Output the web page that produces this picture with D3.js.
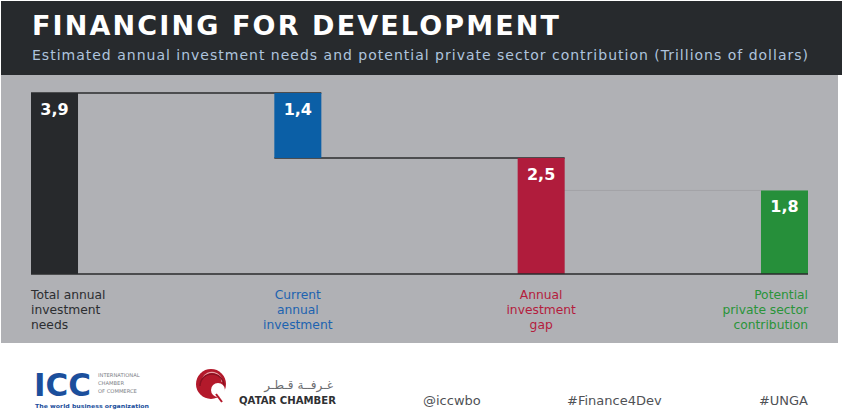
<!DOCTYPE html>
<html>
<head>
<meta charset="utf-8">
<script src="https://cdn.jsdelivr.net/npm/d3@7"></script>
<style>
  html, body { margin: 0; padding: 0; background: #ffffff; }
  svg { display: block; }
</style>
</head>
<body>
<div id="chart"></div>
<script>
// ---- data ----
const titleText = "FINANCING FOR DEVELOPMENT";
const subtitleText = "Estimated annual investment needs and potential private sector contribution (Trillions of dollars)";
const categories = ["Total annual investment needs", "Current annual investment", "Annual investment gap", "Potential private sector contribution"];
const categoryLines = [
  ["Total annual", "investment", "needs"],
  ["Current", "annual", "investment"],
  ["Annual", "investment", "gap"],
  ["Potential", "private sector", "contribution"]
];
const values = [3.9, 1.4, 2.5, 1.8];
// how each bar sits in the waterfall
const kinds = ["total", "decrease", "remainder", "total"];
const barColors = ["#27292c", "#0b5fa6", "#b01c3c", "#268f3a"];
const labelColors = ["#2c2e31", "#1d63b0", "#b41d3d", "#2a9439"];
const labelAnchors = ["start", "middle", "middle", "end"];
const footerTags = ["@iccwbo", "#Finance4Dev", "#UNGA"];

// ---- layout ----
const W = 842, H = 416;
const svg = d3.select("#chart").append("svg").attr("width", W).attr("height", H);

// panels
svg.append("rect").attr("x", 0).attr("y", 0).attr("width", W).attr("height", H).attr("fill", "#ffffff");
svg.append("rect").attr("x", 1).attr("y", 75).attr("width", 837).attr("height", 268).attr("fill", "#b0b1b5");
svg.append("rect").attr("x", 1).attr("y", 1).attr("width", 841).attr("height", 74).attr("fill", "#272a2d");

svg.append("text").text(titleText)
  .attr("x", 32).attr("y", 34.5)
  .attr("font-family", "DejaVu Sans").attr("font-weight", "bold").attr("font-size", 27)
  .attr("fill", "#ffffff")
  .attr("textLength", 527).attr("lengthAdjust", "spacing");

svg.append("text").text(subtitleText)
  .attr("x", 32).attr("y", 60)
  .attr("font-family", "DejaVu Sans").attr("font-size", 14)
  .attr("fill", "#aec4de")
  .attr("textLength", 776).attr("lengthAdjust", "spacing");

// scales
const x = d3.scaleBand().domain(categories).range([31, 808]).paddingInner(0.8068).paddingOuter(0);
const y = d3.scaleLinear().domain([0, 3.9]).range([274, 93]);

// compute waterfall extents
let running = 0;
const bars = values.map((v, i) => {
  let lo, hi;
  if (kinds[i] === "total") { lo = 0; hi = v; running = v; }
  else if (kinds[i] === "decrease") { hi = running; lo = running - v; running = lo; }
  else { lo = 0; hi = running; }
  return { cat: categories[i], v, lo, hi, i };
});

const fmt = d3.formatLocale({ decimal: ",", thousands: ".", grouping: [3], currency: ["", ""] }).format(".1f");

const g = svg.append("g");

// connectors
for (let i = 0; i < bars.length - 1; i++) {
  const a = bars[i], b = bars[i + 1];
  const level = kinds[i + 1] === "decrease" ? a.hi : (kinds[i + 1] === "remainder" ? a.lo : b.hi);
  const light = kinds[i + 1] === "total";
  g.append("line")
    .attr("x1", x(a.cat)).attr("x2", x(b.cat) + (light ? 0 : x.bandwidth()))
    .attr("y1", y(level)).attr("y2", y(level))
    .attr("stroke", light ? "#a2a3a7" : "#2b2c2e")
    .attr("stroke-width", light ? 1 : 1.4);
}

// bars
g.selectAll("rect.bar").data(bars).join("rect")
  .attr("class", "bar")
  .attr("x", d => x(d.cat)).attr("width", x.bandwidth())
  .attr("y", d => y(d.hi)).attr("height", d => y(d.lo) - y(d.hi))
  .attr("fill", (d, i) => barColors[i]);

// baseline
g.append("line")
  .attr("x1", x(categories[0])).attr("x2", x(categories[3]) + x.bandwidth())
  .attr("y1", y(0)).attr("y2", y(0))
  .attr("stroke", "#2a2b2d").attr("stroke-width", 1.5);

// value labels
g.selectAll("text.val").data(bars).join("text")
  .attr("class", "val")
  .attr("x", d => x(d.cat) + x.bandwidth() / 2)
  .attr("y", d => y(d.hi) + 22)
  .attr("text-anchor", "middle")
  .attr("font-family", "DejaVu Sans").attr("font-weight", "bold").attr("font-size", 16)
  .attr("fill", "#ffffff")
  .text(d => fmt(d.v));

// category labels
bars.forEach((d, i) => {
  const anchor = labelAnchors[i];
  const lx = anchor === "start" ? x(d.cat) : anchor === "end" ? x(d.cat) + x.bandwidth() : x(d.cat) + x.bandwidth() / 2;
  const t = g.append("text")
    .attr("text-anchor", anchor)
    .attr("font-family", "DejaVu Sans").attr("font-size", 12.3)
    .attr("fill", labelColors[i]);
  categoryLines[i].forEach((line, k) => {
    t.append("tspan").attr("x", lx).attr("y", 298.5 + k * 15.3).text(line);
  });
});

// ---- footer ----
const f = svg.append("g");
// ICC logo
f.append("text").text("ICC")
  .attr("x", 34).attr("y", 396)
  .attr("font-family", "DejaVu Sans").attr("font-weight", "bold").attr("font-size", 32)
  .attr("fill", "#1b4f9c")
  .attr("textLength", 57).attr("lengthAdjust", "spacingAndGlyphs");
["INTERNATIONAL", "CHAMBER", "OF COMMERCE"].forEach((s, k) => {
  f.append("text").text(s)
    .attr("x", 98).attr("y", 377 + k * 8)
    .attr("font-family", "DejaVu Sans").attr("font-size", 5.2)
    .attr("fill", "#7a7d85");
});
f.append("text").text("The world business organization")
  .attr("x", 35).attr("y", 408)
  .attr("font-family", "DejaVu Sans").attr("font-weight", "bold").attr("font-size", 5.4)
  .attr("fill", "#1b4f9c")
  .attr("textLength", 114).attr("lengthAdjust", "spacingAndGlyphs");

// Qatar Chamber logo
f.append("circle").attr("cx", 211).attr("cy", 384).attr("r", 15).attr("fill", "#b3192b");
f.append("path").attr("d", "M203,378 A10,10 0 0 1 222,382").attr("fill", "none").attr("stroke", "#e7a1a6").attr("stroke-width", 1.2);
f.append("path").attr("d", "M200,386 A12,12 0 0 1 224,386").attr("fill", "none").attr("stroke", "#8a1020").attr("stroke-width", 1.5);
f.append("circle").attr("cx", 218).attr("cy", 390).attr("r", 7).attr("fill", "#ffffff");
f.append("path").attr("d", "M216,394 L222,402").attr("stroke", "#b3192b").attr("stroke-width", 2);
f.append("text").text("غـرفــة قـطـر")
  .attr("x", 333).attr("y", 389).attr("text-anchor", "end")
  .attr("font-family", "DejaVu Sans").attr("font-size", 12)
  .attr("fill", "#6b6d70");
f.append("text").text("QATAR CHAMBER")
  .attr("x", 239).attr("y", 404)
  .attr("font-family", "DejaVu Sans").attr("font-weight", "bold").attr("font-size", 11)
  .attr("fill", "#2f3033")
  .attr("textLength", 97).attr("lengthAdjust", "spacingAndGlyphs");

// hashtags
const tagX = [423, 567, 808];
const tagAnchor = ["start", "start", "end"];
footerTags.forEach((s, k) => {
  f.append("text").text(s)
    .attr("x", tagX[k]).attr("y", 405)
    .attr("text-anchor", tagAnchor[k])
    .attr("font-family", "DejaVu Sans").attr("font-size", 13)
    .attr("fill", "#505256");
});
</script>
</body>
</html>
